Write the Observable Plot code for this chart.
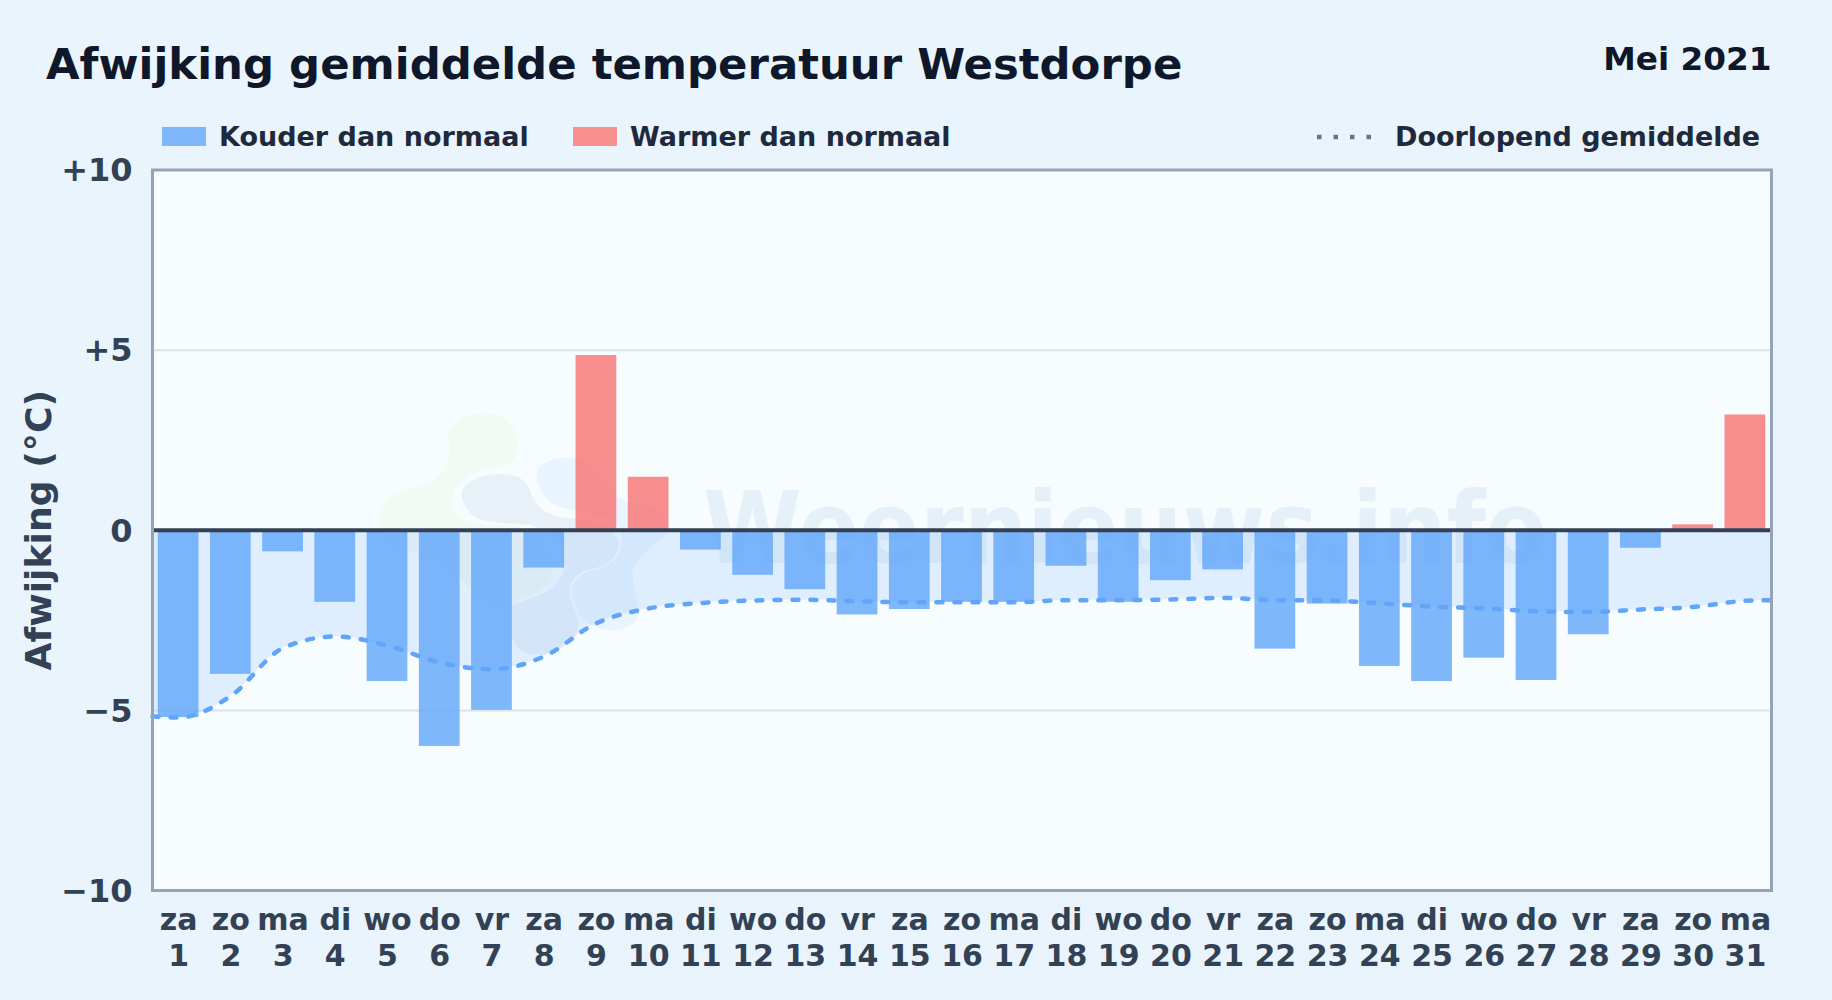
<!DOCTYPE html>
<html lang="nl">
<head>
<meta charset="utf-8">
<title>Afwijking gemiddelde temperatuur Westdorpe</title>
<script src="https://cdn.jsdelivr.net/npm/d3@7"></script>
<script src="https://cdn.jsdelivr.net/npm/@observablehq/plot@0.6"></script>
<style>
  html, body { margin: 0; padding: 0; }
  body { width: 1832px; height: 1000px; overflow: hidden; position: relative;
         background: linear-gradient(135deg, #e9f4fc, #e8f3fb);
         font-family: "DejaVu Sans", sans-serif; font-weight: 700; }
  .abs { position: absolute; line-height: 1; white-space: nowrap; }
  #title { left: 46px; top: 43px; font-size: 43.4px; color: #0f172a; margin: 0; font-weight: 700; }
  #period { right: 60.5px; top: 42.5px; font-size: 32.7px; color: #0f172a; }
  .leg { top: 123px; font-size: 27px; color: #1e293b; }
  .swatch { position: absolute; top: 127px; width: 44px; height: 19px; }
  #panel { position: absolute; left: 152px; top: 170px; width: 1619px; height: 720px; background: #f7fcff; }
  #mark { position: absolute; left: 0; top: 0; }
  #chart { position: absolute; left: 0; top: 0; }
  #chart svg { display: block; }
</style>
</head>
<body>
<h1 id="title" class="abs">Afwijking gemiddelde temperatuur Westdorpe</h1>
<div id="period" class="abs">Mei 2021</div>
<div class="swatch" style="left:162px;background:#7eb6fb"></div>
<div class="abs leg" style="left:219px">Kouder dan normaal</div>
<div class="swatch" style="left:573px;background:#f98f8f"></div>
<div class="abs leg" style="left:630px">Warmer dan normaal</div>
<svg class="abs" style="left:1310px;top:130px" width="70" height="14"><line x1="7" x2="64" y1="7" y2="7" stroke="#64748b" stroke-width="4.5" stroke-dasharray="4.5 12"/></svg>
<div class="abs leg" style="left:1395px">Doorlopend gemiddelde</div>
<div id="panel"></div>
<svg id="mark" width="1832" height="1000">
  <g transform="translate(360 395) scale(.3333)" style="filter: blur(1px)">
    <path fill="#f3f9f3" d="M60 350C70 300 150 280 210 260C260 240 275 190 265 130C265 80 320 55 370 55C440 55 475 100 472 160C470 200 440 210 420 215C380 220 290 240 275 310C270 370 320 395 460 390C540 400 590 500 575 550C550 600 480 610 440 625C400 640 350 600 310 560C270 500 150 470 100 450C70 430 55 390 60 350Z"/>
    <path fill="#e8f0f8" d="M305 300C310 250 380 235 430 238C480 240 505 260 515 300C530 340 570 370 640 370C720 380 780 410 775 450C770 500 730 515 680 525C640 540 620 570 635 620C650 660 670 690 640 730C610 770 540 790 490 770C450 750 440 680 450 630C520 610 590 590 610 530C620 470 590 410 510 390C430 380 320 400 305 300Z"/>
    <path fill="#e8f4fe" d="M530 240C530 200 590 185 640 190C700 195 740 300 800 320C860 330 925 350 925 400C925 430 850 460 820 520C810 570 840 620 838 650C830 690 790 710 750 705C700 700 660 680 650 640C620 590 640 540 700 525C770 510 790 470 785 420C775 370 700 350 640 345C570 340 530 290 530 240Z"/>
  </g>
  <text x="703" y="563" font-family="DejaVu Sans" font-weight="700" font-size="100" textLength="844" lengthAdjust="spacingAndGlyphs" fill="#e6f0f8">Weernieuws.info</text>
</svg>
<div id="chart"></div>
<script>
const days = d3.range(1, 32);
const weekdays = ["za","zo","ma","di","wo","do","vr","za","zo","ma","di","wo","do","vr","za","zo","ma","di","wo","do","vr","za","zo","ma","di","wo","do","vr","za","zo","ma"];
const deviations = [-5.2,-4.0,-0.6,-2.0,-4.2,-6.0,-5.0,-1.05,4.85,1.47,-0.55,-1.25,-1.65,-2.35,-2.2,-2.0,-2.0,-1.0,-2.0,-1.4,-1.1,-3.3,-2.05,-3.78,-4.2,-3.55,-4.17,-2.9,-0.5,0.15,3.2];
const meanDays = [0.5,1,2,3,4,5,6,7,8,9,10,11,12,13,14,15,16,17,18,19,20,21,22,23,24,25,26,27,28,29,30,31,31.5];
const runningMean = [-5.17,-5.2,-4.6,-3.27,-2.95,-3.2,-3.67,-3.86,-3.5,-2.58,-2.17,-2.02,-1.95,-1.93,-1.97,-2.0,-2.0,-2.0,-1.94,-1.94,-1.92,-1.88,-1.94,-1.95,-2.03,-2.12,-2.17,-2.25,-2.27,-2.2,-2.13,-1.96,-1.94];
const yTicks = [-10,-5,0,5,10];
const gridValues = [-5,5];
const yLabel = "Afwijking (°C)";

const bars = days.map((day, i) => ({day, value: deviations[i]}));
const mean = meanDays.map((day, i) => ({day, value: runningMean[i]}));
const halfBar = 0.39;
const signed = d => d > 0 ? "+" + d : d < 0 ? "\u2212" + Math.abs(d) : "0";

const chart = Plot.plot({
  width: 1832, height: 1000,
  marginLeft: 152, marginRight: 61, marginTop: 169.5, marginBottom: 110,
  style: {background: "transparent", fontFamily: "DejaVu Sans, sans-serif"},
  x: {domain: [0.5, 31.5]},
  y: {domain: [-10, 10]},
  marks: [
    Plot.ruleY(gridValues, {stroke: "#dce3ea", strokeWidth: 2}),
    Plot.areaY(mean, {x: "day", y1: 0, y2: "value", fill: "#93c5fd", fillOpacity: 0.25, curve: "monotone-x"}),
    Plot.rectY(bars.filter(d => d.value < 0), {x1: d => d.day - halfBar, x2: d => d.day + halfBar, y1: 0, y2: "value", fill: "#60a5fa", fillOpacity: 0.8}),
    Plot.rectY(bars.filter(d => d.value > 0), {x1: d => d.day - halfBar, x2: d => d.day + halfBar, y1: 0, y2: "value", fill: "#f87171", fillOpacity: 0.8}),
    Plot.line(mean, {x: "day", y: "value", stroke: "#60a5fa", strokeWidth: 4.5, strokeDasharray: "6 12", strokeLinecap: "round", curve: "monotone-x"}),
    Plot.ruleY([0], {stroke: "#334155", strokeWidth: 4}),
    Plot.frame({stroke: "#94a3b8", strokeWidth: 3}),
    Plot.axisY({ticks: yTicks, tickFormat: signed, tickSize: 0, tickPadding: 20, dy: 1, fontSize: 32, fontWeight: 700, fill: "#334155", label: null}),
    Plot.axisX({ticks: days, tickFormat: d => weekdays[d - 1] + "\n" + d, tickSize: 0, tickPadding: 15, fontSize: 30, fontWeight: 700, fill: "#334155", lineHeight: 1.17, label: null}),
    Plot.text([yLabel], {frameAnchor: "left", dx: -113, rotate: -90, textAnchor: "middle", fontSize: 36.2, fontWeight: 700, fill: "#334155"})
  ]
});
document.getElementById("chart").append(chart);
</script>
</body>
</html>
